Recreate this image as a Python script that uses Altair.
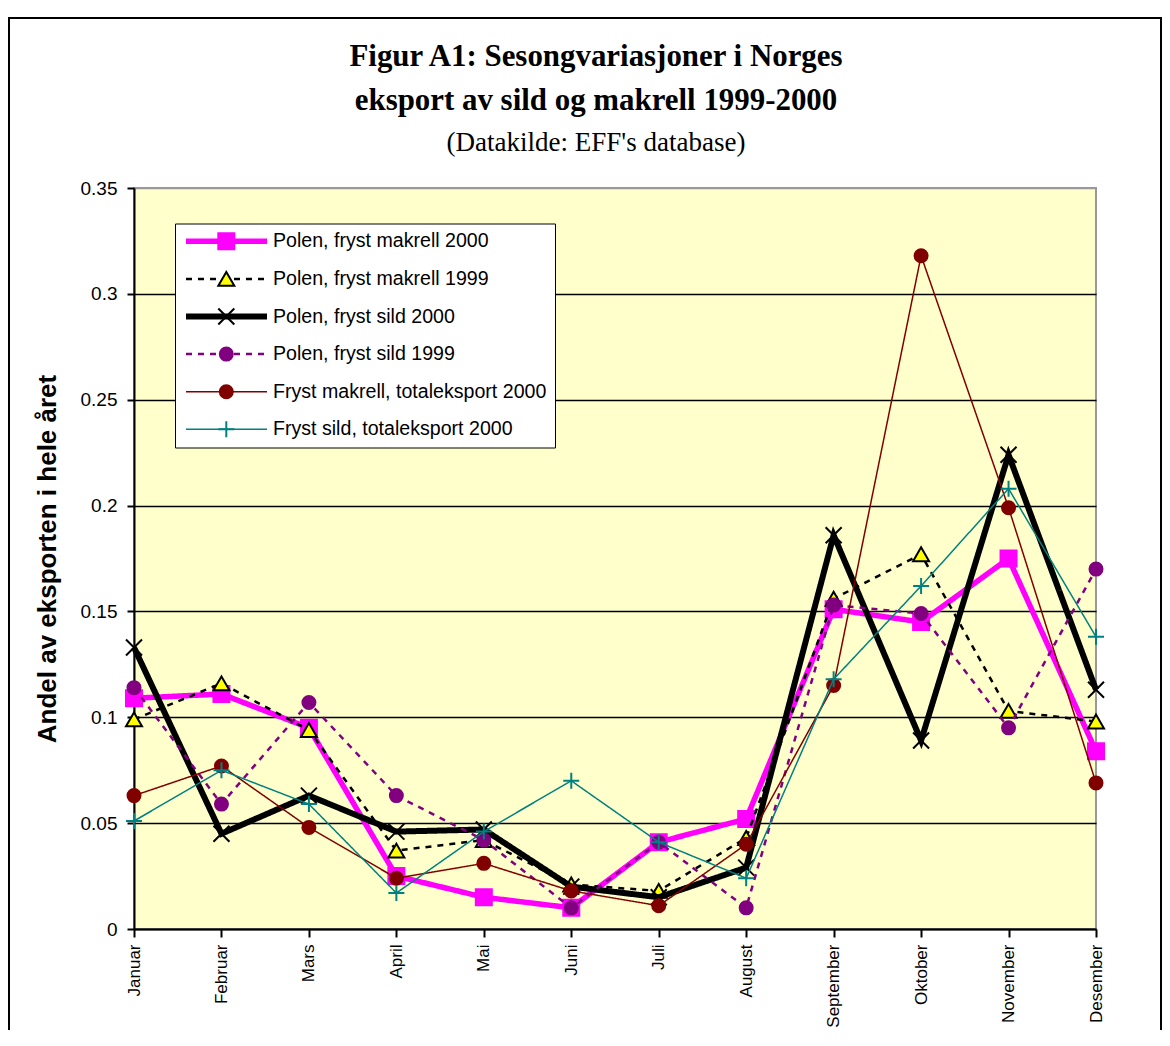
import altair as alt
import pandas as pd

title_lines = ["Figur A1: Sesongvariasjoner i Norges", "eksport av sild og makrell 1999-2000"]
subtitle_text = "(Datakilde: EFF's database)"
y_title = "Andel av eksporten i hele året"

months = ["Januar", "Februar", "Mars", "April", "Mai", "Juni", "Juli",
          "August", "September", "Oktober", "November", "Desember"]
series_names = ["Polen, fryst makrell 2000", "Polen, fryst makrell 1999",
                "Polen, fryst sild 2000", "Polen, fryst sild 1999",
                "Fryst makrell, totaleksport 2000", "Fryst sild, totaleksport 2000"]
makrell_pl_2000 = [0.109, 0.111, 0.095, 0.025, 0.015, 0.010, 0.041, 0.052, 0.151, 0.145, 0.175, 0.084]
makrell_pl_1999 = [0.099, 0.116, 0.094, 0.037, 0.042, 0.021, 0.018, 0.043, 0.156, 0.177, 0.103, 0.098]
sild_pl_2000 = [0.133, 0.045, 0.063, 0.046, 0.047, 0.020, 0.015, 0.029, 0.186, 0.089, 0.224, 0.113]
sild_pl_1999 = [0.114, 0.059, 0.107, 0.063, 0.042, 0.010, 0.041, 0.010, 0.153, 0.149, 0.095, 0.170]
makrell_tot_2000 = [0.063, 0.077, 0.048, 0.024, 0.031, 0.018, 0.011, 0.040, 0.115, 0.318, 0.199, 0.069]
sild_tot_2000 = [0.051, 0.075, 0.059, 0.017, 0.046, 0.070, 0.041, 0.024, 0.118, 0.162, 0.208, 0.138]
all_values = [makrell_pl_2000, makrell_pl_1999, sild_pl_2000, sild_pl_1999,
              makrell_tot_2000, sild_tot_2000]

line_colors = ["#FF00FF", "#000000", "#000000", "#800080", "#800000", "#008080"]
line_dash = [[1, 0], [6, 6], [1, 0], [6, 6], [1, 0], [1, 0]]
line_widths = [5.5, 2.5, 6, 2.5, 1.5, 1.5]
pt_shapes = ["square", "triangle-up", "M-1,-1L1,1M-1,1L1,-1", "circle", "circle", "M-1,0L1,0M0,-1L0,1"]
pt_fill = ["#FF00FF", "#FFFF00", "transparent", "#800080", "#800000", "transparent"]
pt_stroke = ["#FF00FF", "#000000", "#000000", "#800080", "#800000", "#008080"]
pt_size = [256, 256, 256, 169, 169, 256]

pt_names = [n + " " for n in series_names]

rows = []
for name, pname, vals in zip(series_names, pt_names, all_values):
    for m, v in zip(months, vals):
        rows.append({"month": m, "value": v, "series": name, "series_pt": pname})
df = pd.DataFrame(rows)

W, H = 962, 741
PAD_L, PAD_T, PAD_R, PAD_B = 126, 180, 66, 101
FONT = "Liberation Sans"
SERIF = "Liberation Serif"

x_enc = alt.X("month:N", sort=months, scale=alt.Scale(type="point", padding=0),
              title=None,
              axis=alt.Axis(labelAngle=-90, labelFontSize=17, labelFont=FONT,
                            labelColor="black", tickSize=8, tickColor="black",
                            tickWidth=2, domainColor="black", domainWidth=2,
                            labelPadding=7, grid=False))
y_enc = alt.Y("value:Q", scale=alt.Scale(domain=[0, 0.35], nice=False, zero=True),
              title=y_title,
              axis=alt.Axis(values=[0, 0.05, 0.1, 0.15, 0.2, 0.25, 0.3, 0.35],
                            format=".2~f", labelFontSize=19, labelFont=FONT,
                            labelColor="black", tickSize=7, tickColor="black",
                            tickWidth=2, domainColor="black", domainWidth=2,
                            labelPadding=10, grid=True,
                            gridColor={"condition": {"test": "datum.value >= 0.349", "value": "#999999"},
                                       "value": "black"},
                            gridWidth=1.5,
                            titleFont=FONT, titleFontSize=26, titleFontWeight="bold",
                            titleColor="black", titlePadding=20))

line_legend = alt.Legend(title=None, orient="none", legendX=41, legendY=35.5,
                         direction="vertical", symbolType="stroke", symbolSize=6561,
                         labelFont=FONT, labelFontSize=19.6, labelColor="black",
                         labelOffset=3, padding=8, fillColor="white",
                         strokeColor="black", rowPadding=16.6, labelLimit=0,
                         clipHeight=19.6)
pt_legend = alt.Legend(title=None, orient="none", legendX=74.5, legendY=35.5,
                       direction="vertical", labelExpr="''",
                       labelFont=FONT, labelFontSize=19.6, labelColor="transparent",
                       labelOffset=3, padding=8, rowPadding=16.6, labelLimit=0,
                       symbolStrokeWidth=2, symbolOpacity=1, clipHeight=19.6)

color_s = alt.Scale(domain=series_names, range=line_colors)
dash_s = alt.Scale(type="ordinal", domain=series_names, range=line_dash)
width_s = alt.Scale(type="ordinal", domain=series_names, range=line_widths)
shape_s = alt.Scale(domain=pt_names, range=pt_shapes)
fill_s = alt.Scale(domain=pt_names, range=pt_fill)
stroke_s = alt.Scale(domain=pt_names, range=pt_stroke)
size_s = alt.Scale(type="ordinal", domain=pt_names, range=pt_size)

layers = []
frame = alt.Chart(alt.Data(values=[{}])).mark_rect(
    fill="transparent", stroke="black", strokeWidth=2, clip=False
).encode(x=alt.value(-125), x2=alt.value(W + PAD_R - 1),
         y=alt.value(-170), y2=alt.value(H + PAD_B + 20))
layers.append(frame)

title_specs = [(title_lines[0], -131, 30.9, "bold"),
               (title_lines[1], -87, 30.9, "bold"),
               (subtitle_text, -45, 27, "normal")]
for txt, yy, fs, fw in title_specs:
    layers.append(
        alt.Chart(alt.Data(values=[{"t": txt}])).mark_text(
            font=SERIF, fontSize=fs, fontWeight=fw, color="black",
            align="center", baseline="middle"
        ).encode(text="t:N", x=alt.value(W / 2 - 19), y=alt.value(yy))
    )

for name, pname in zip(series_names, pt_names):
    ln = alt.Chart(df).transform_filter(alt.datum.series == name).mark_line(
        strokeJoin="miter", strokeCap="butt").encode(
        x=x_enc, y=y_enc,
        color=alt.Color("series:N", scale=color_s, legend=line_legend),
        strokeDash=alt.StrokeDash("series:N", scale=dash_s, legend=line_legend),
        strokeWidth=alt.StrokeWidth("series:N", scale=width_s, legend=line_legend),
    )
    pt = alt.Chart(df).transform_filter(alt.datum.series == name).mark_point(
        filled=True, opacity=1, strokeWidth=2).encode(
        x=x_enc, y=y_enc,
        shape=alt.Shape("series_pt:N", scale=shape_s, legend=pt_legend),
        fill=alt.Fill("series_pt:N", scale=fill_s, legend=pt_legend),
        stroke=alt.Stroke("series_pt:N", scale=stroke_s, legend=pt_legend),
        size=alt.Size("series_pt:N", scale=size_s, legend=pt_legend),
    )
    layers += [ln, pt]

chart = alt.layer(*layers).properties(
    width=W, height=H,
    padding={"left": PAD_L, "top": PAD_T, "right": PAD_R, "bottom": PAD_B},
    autosize=alt.AutoSizeParams(type="none"),
).configure(background="white").configure_view(fill="#FFFFCC", stroke="#999999", strokeWidth=2)

chart.save("out.html", embed_options={"renderer": "svg", "actions": False})
